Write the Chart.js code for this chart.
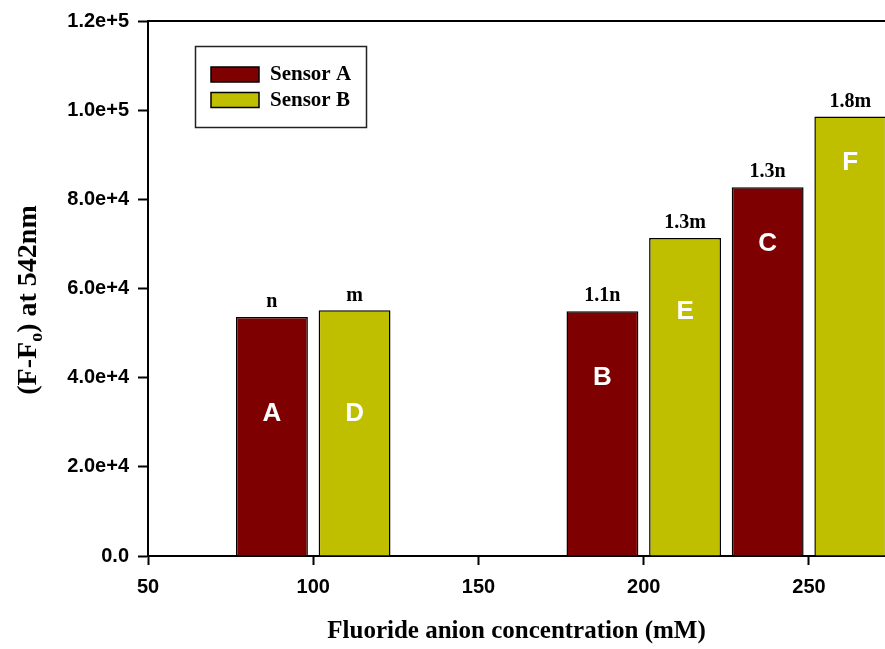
<!DOCTYPE html>
<html>
<head>
<meta charset="utf-8">
<script src="https://cdn.jsdelivr.net/npm/chart.js@4.4.1/dist/chart.umd.min.js"></script>
<style>
  html, body { margin: 0; padding: 0; background: #fff; overflow: hidden; }
</style>
</head>
<body>
<canvas id="chart" width="885" height="649"></canvas>
<script>
// values
const concentrations = [100, 200, 250];
const sensorA = [53600, 54900, 82700];
const sensorB = [55100, 71300, 98600];
const topLabelsA = ['n', '1.1n', '1.3n'];
const topLabelsB = ['m', '1.3m', '1.8m'];
const lettersA = ['A', 'B', 'C'];
const lettersB = ['D', 'E', 'F'];
const letterLevelA = [32000, 40000, 70000];
const letterLevelB = [32000, 54800, 88300];

const colA = '#7f0000';
const colB = '#bfbf00';

const extras = {
    id: 'extras',
    afterDatasetsDraw(chart) {
        const ctx = chart.ctx;
        const area = chart.chartArea;
        const y = chart.scales.y;

        // top frame line
        ctx.save();
        ctx.strokeStyle = '#000';
        ctx.lineWidth = 2;
        ctx.beginPath();
        ctx.moveTo(area.left, area.top);
        ctx.lineTo(area.right, area.top);
        ctx.stroke();
        ctx.restore();

        // labels above bars and letters inside bars
        const sets = [[topLabelsA, lettersA, letterLevelA], [topLabelsB, lettersB, letterLevelB]];
        sets.forEach((s, di) => {
            const meta = chart.getDatasetMeta(di);
            meta.data.forEach((bar, i) => {
                ctx.save();
                ctx.textAlign = 'center';
                ctx.textBaseline = 'middle';
                ctx.fillStyle = '#000';
                ctx.font = 'bold 20px "Liberation Serif"';
                ctx.fillText(s[0][i], bar.x, bar.y - 15);
                ctx.fillStyle = '#fff';
                ctx.font = 'bold 26px "Liberation Sans"';
                ctx.fillText(s[1][i], bar.x, y.getPixelForValue(s[2][i]));
                ctx.restore();
            });
        });

        // legend box
        ctx.save();
        ctx.strokeStyle = '#222';
        ctx.lineWidth = 1.5;
        ctx.strokeRect(195.5, 46.5, 171, 81);
        chart.data.datasets.forEach((ds, i) => {
            const top = 67 + i * 25.5;
            ctx.fillStyle = ds.backgroundColor;
            ctx.fillRect(211, top, 48, 15);
            ctx.strokeStyle = '#000';
            ctx.lineWidth = 1.5;
            ctx.strokeRect(211, top, 48, 15);
            ctx.fillStyle = '#000';
            ctx.font = 'bold 21px "Liberation Serif"';
            ctx.textAlign = 'left';
            ctx.textBaseline = 'middle';
            ctx.fillText(ds.label, 270, top + 8);
        });
        ctx.restore();

        // y axis title with subscript
        ctx.save();
        ctx.translate(29, 300);
        ctx.rotate(-Math.PI / 2);
        ctx.fillStyle = '#000';
        ctx.textBaseline = 'middle';
        const big = 'bold 28px "Liberation Serif"';
        const small = 'bold 18px "Liberation Serif"';
        const parts = [['(F-F', big, 0], ['o', small, 8], [') at 542nm', big, 0]];
        let total = 0;
        parts.forEach(p => { ctx.font = p[1]; total += ctx.measureText(p[0]).width; });
        let x = -total / 2;
        parts.forEach(p => {
            ctx.font = p[1];
            ctx.textAlign = 'left';
            ctx.fillText(p[0], x, p[2]);
            x += ctx.measureText(p[0]).width;
        });
        ctx.restore();
    }
};

new Chart(document.getElementById('chart'), {
    type: 'bar',
    data: {
        datasets: [
            {
                label: 'Sensor A',
                data: concentrations.map((c, i) => ({ x: c, y: sensorA[i] })),
                backgroundColor: colA,
                borderColor: '#000',
                borderWidth: 1.5
            },
            {
                label: 'Sensor B',
                data: concentrations.map((c, i) => ({ x: c, y: sensorB[i] })),
                backgroundColor: colB,
                borderColor: '#000',
                borderWidth: 1.5
            }
        ]
    },
    options: {
        responsive: false,
        animation: false,
        categoryPercentage: 1,
        barPercentage: 0.87,
        layout: { padding: { top: 20, right: 0, left: 0, bottom: 0 } },
        plugins: { legend: { display: false }, tooltip: { enabled: false } },
        scales: {
            x: {
                type: 'linear',
                offset: false,
                min: 50,
                max: 273,
                afterFit(scale) { scale.height = 93; },
                ticks: {
                    stepSize: 50,
                    includeBounds: false,
                    color: '#000',
                    padding: 10,
                    maxRotation: 0,
                    font: { family: 'Liberation Sans', weight: 'bold', size: 20 }
                },
                grid: { offset: false, drawOnChartArea: false, tickLength: 9, tickColor: '#000', tickWidth: 2 },
                border: { color: '#000', width: 2 },
                title: {
                    display: true,
                    text: 'Fluoride anion concentration (mM)',
                    color: '#000',
                    padding: { top: 0, bottom: 2 },
                    font: { family: 'Liberation Serif', weight: 'bold', size: 25 }
                }
            },
            y: {
                min: 0,
                max: 120000,
                afterFit(scale) { scale.width = 148; },
                ticks: {
                    stepSize: 20000,
                    color: '#000',
                    padding: 9,
                    font: { family: 'Liberation Sans', weight: 'bold', size: 20 },
                    callback: v => v === 0 ? '0.0' : v.toExponential(1)
                },
                grid: { drawOnChartArea: false, tickLength: 10, tickColor: '#000', tickWidth: 2 },
                border: { color: '#000', width: 2 }
            }
        }
    },
    plugins: [extras]
});
</script>
</body>
</html>
